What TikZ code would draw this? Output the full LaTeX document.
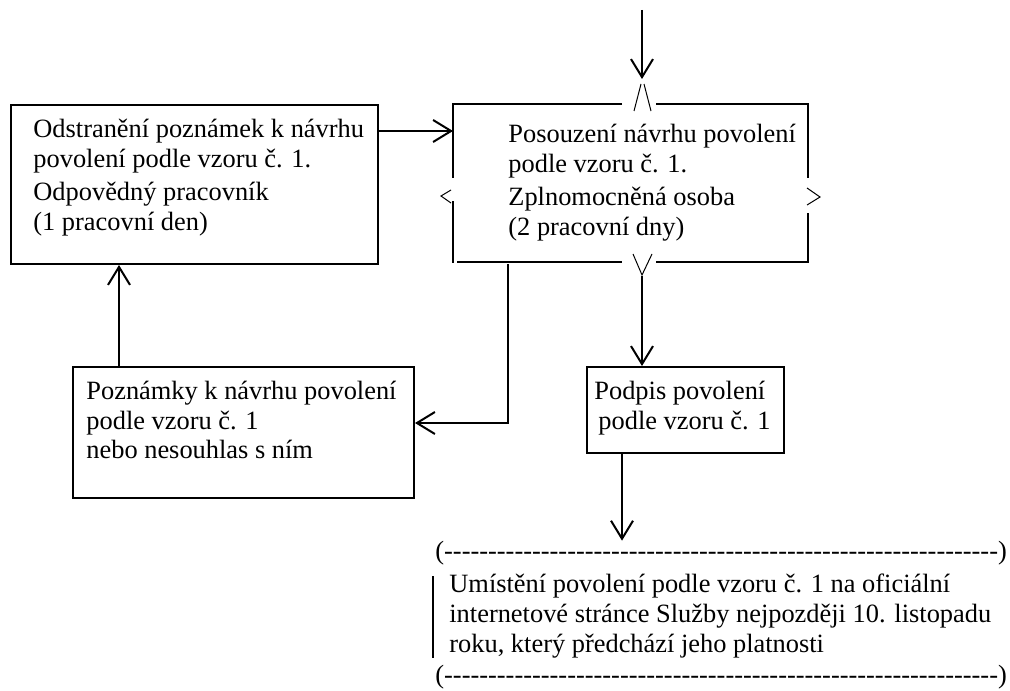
\documentclass[tikz,border=0pt]{standalone}
\usepackage{fontspec}
\setmainfont{Liberation Serif}
\usetikzlibrary{arrows.meta,positioning}

\newcommand\dashrow{\foreach\k in {1,...,63}{-}}

\begin{document}
\begin{tikzpicture}[
    x=0.5pt, y=-0.5pt,
    box/.style={rectangle, draw, line width=1pt, inner sep=0pt, anchor=north west},
    txt/.style={anchor=north west, inner sep=0pt, align=left, font=\fontsize{13.2pt}{14.8pt}\selectfont},
    wire/.style={line width=1pt},
    arr/.style={wire, -{Straight Barb[length=9pt,width=11pt,line width=1pt]}},
    sign/.style={line width=0.5pt}
]
\useasboundingbox (0,0) rectangle (1010,690);

% Odstraneni poznamek
\node[box, minimum width=183.5pt, minimum height=79.5pt] (odstraneni) at (10,104) {};
\node[txt] (odstraneniText) at (33,119) {Odstranění poznámek k návrhu\\ povolení podle vzoru č. 1.\\[2pt] Odpovědný pracovník\\ (1 pracovní den)};

% Posouzeni (broken outline with signs)
\node[box, draw=none, minimum width=177.5pt, minimum height=79pt] (posouzeni) at (453,104) {};
\node[txt] (posouzeniText) at (508,124) {Posouzení návrhu povolení\\ podle vzoru č. 1.\\[2pt] Zplnomocněná osoba\\ (2 pracovní dny)};
\draw[wire] (622,104) -| (453,178);
\draw[wire] (656,104) -| (808,178);
\draw[wire] (453,201) -- (453,263);
\draw[wire] (808,213) |- (656,262);
\draw[wire] (457,262) -- (622,262);
\draw[sign] (634,111) -- (641,84) (644,84) -- (651,111);
\draw[sign] (633,254) -- (642,275) -- (652,254);
\draw[sign] (451,190) -- (441,196) -- (451,203);
\draw[sign] (807,188) -- (820,197) -- (807,205);
\coordinate (vrchol) at (642,83);
\coordinate (dno) at (642,276);
\coordinate (vstup) at (642,10);

% Poznamky
\node[box, minimum width=170.5pt, minimum height=65.5pt] (poznamky) at (72,366) {};
\node[txt] (poznamkyText) at (86,381) {Poznámky k návrhu povolení\\ podle vzoru č. 1\\ nebo nesouhlas s ním};

% Podpis
\node[box, minimum width=98.5pt, minimum height=43pt] (podpis) at (586,366) {};
\node[txt] (podpisText) at (594,381) {Podpis povolení\\ \hspace*{2pt}podle vzoru č. 1};

% Umisteni
\node[txt, anchor=west] (horni) at (435,553) {(\dashrow)};
\node[txt] (umisteni) at (449,574) {Umístění povolení podle vzoru č. 1 na oficiální\\ internetové stránce Služby nejpozději 10. listopadu\\ roku, který předchází jeho platnosti};
\node[txt, anchor=west] (dolni) at (435,677) {(\dashrow)};
\draw[line width=0.6pt] ([xshift=-8pt,yshift=-1pt]umisteni.north west) -- ([xshift=-8pt]umisteni.south west);

% Connections
\draw[arr] (vstup) -- ([yshift=2pt]vrchol);
\draw[arr] ([yshift=-13.5pt]odstraneni.north east) -- ([yshift=-13.5pt]odstraneni.north east -| posouzeni.west);
\draw[arr] ([xshift=23.5pt]poznamky.north west) -- ([xshift=23.5pt]poznamky.north west |- odstraneni.south);
\draw[arr] ([xshift=27.5pt]posouzeni.south west) |- ([yshift=4.75pt]poznamky.east);
\draw[arr] (dno) -- (dno |- podpis.north);
\draw[arr] ([xshift=18pt]podpis.south west) -- ([xshift=18pt]podpis.south west |- horni.north);

\end{tikzpicture}
\end{document}
